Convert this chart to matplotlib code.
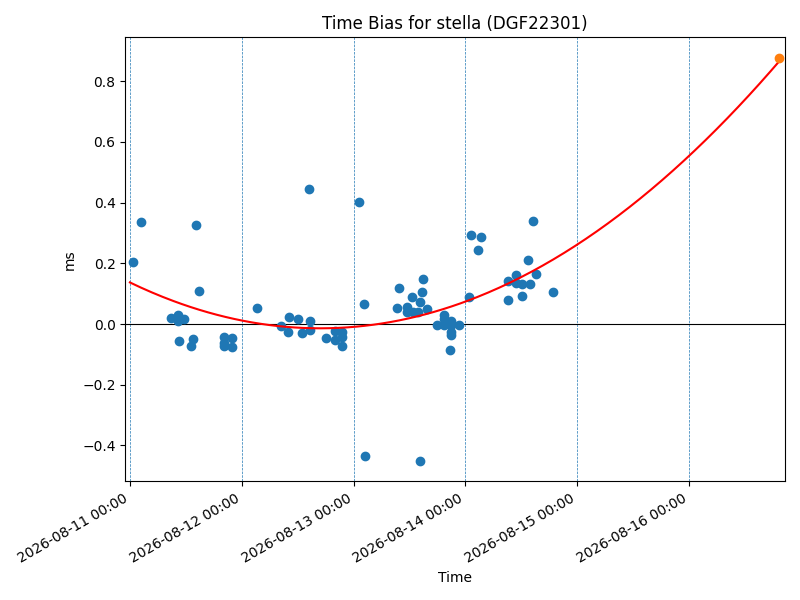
import numpy as np
import pandas as pd
import matplotlib
matplotlib.use("Agg")
import matplotlib.pyplot as plt
import matplotlib.dates as mdates

# measured time bias samples (ms)
times = [
    "2026-08-11 00:39", "2026-08-11 02:21", "2026-08-11 08:44", "2026-08-11 10:26",
    "2026-08-11 10:26", "2026-08-11 11:31", "2026-08-11 10:32", "2026-08-11 14:07",
    "2026-08-11 14:50", "2026-08-11 13:32", "2026-08-11 13:06", "2026-08-11 20:08",
    "2026-08-11 20:08", "2026-08-11 20:17", "2026-08-11 21:55", "2026-08-11 21:55",
    "2026-08-12 03:17", "2026-08-12 08:31", "2026-08-12 10:11", "2026-08-12 09:58",
    "2026-08-12 11:59", "2026-08-12 12:58", "2026-08-12 14:24", "2026-08-12 14:41",
    "2026-08-12 14:41", "2026-08-12 18:07", "2026-08-12 19:55", "2026-08-12 19:55",
    "2026-08-12 21:33", "2026-08-12 21:33", "2026-08-12 21:33",
    "2026-08-13 01:08", "2026-08-13 02:17", "2026-08-13 02:30", "2026-08-13 09:48",
    "2026-08-13 09:26", "2026-08-13 11:31", "2026-08-13 11:31", "2026-08-13 12:46",
    "2026-08-13 12:36", "2026-08-13 13:52", "2026-08-13 14:18", "2026-08-13 14:44",
    "2026-08-13 14:57", "2026-08-13 14:18", "2026-08-13 15:49", "2026-08-13 17:50",
    "2026-08-13 19:24", "2026-08-13 19:24", "2026-08-13 19:24", "2026-08-13 20:50",
    "2026-08-13 20:50", "2026-08-13 20:50", "2026-08-13 20:56", "2026-08-13 20:45",
    "2026-08-13 22:34",
    "2026-08-14 00:50", "2026-08-14 01:16", "2026-08-14 03:24", "2026-08-14 02:47",
    "2026-08-14 09:09", "2026-08-14 09:13", "2026-08-14 10:57", "2026-08-14 10:57",
    "2026-08-14 12:13", "2026-08-14 12:13", "2026-08-14 13:49", "2026-08-14 13:31",
    "2026-08-14 14:36", "2026-08-14 15:14", "2026-08-14 18:53",
]
bias_ms = [
    0.206, 0.337, 0.021, 0.030,
    0.010, 0.016, -0.056, 0.325,
    0.109, -0.050, -0.073, -0.044,
    -0.063, -0.071, -0.047, -0.077,
    0.053, -0.006, 0.024, -0.025,
    0.017, -0.030, 0.446, 0.011,
    -0.021, -0.045, -0.023, -0.052,
    -0.025, -0.044, -0.072,
    0.403, 0.066, -0.434, 0.119,
    0.053, 0.057, 0.039, 0.040,
    0.089, 0.040, 0.073, 0.106,
    0.147, -0.452, 0.049, -0.002,
    0.030, 0.016, -0.002, -0.002,
    0.009, -0.027, -0.036, -0.085,
    -0.002,
    0.088, 0.292, 0.288, 0.245,
    0.141, 0.080, 0.161, 0.135,
    0.132, 0.094, 0.132, 0.211,
    0.340, 0.165, 0.106,
]

# predicted bias at "now"
now_time = "2026-08-16 19:22"
now_bias = 0.878

fit_start = "2026-08-11 00:00"
x_range = ("2026-08-10 23:01", "2026-08-16 20:36")

t = mdates.date2num(pd.to_datetime(times))
t0 = mdates.date2num(pd.Timestamp(fit_start))
t_now = mdates.date2num(pd.Timestamp(now_time))

# quadratic trend through the samples
coef = np.polyfit(t - t0, bias_ms, 2)
tt = np.linspace(t0, t_now, 300)
fit = np.polyval(coef, tt - t0)

fig, ax = plt.subplots(figsize=(8, 6), dpi=100)

for d in pd.date_range("2026-08-11", "2026-08-16", freq="D"):
    ax.axvline(mdates.date2num(d), color="C0", linestyle="--", linewidth=0.5)
ax.axhline(0, color="k", linewidth=0.8)

ax.plot(t, bias_ms, "o", color="C0")
ax.plot(tt, fit, color="red")
ax.plot([t_now], [now_bias], "o", color="C1")

ax.set_xlim(mdates.date2num(pd.Timestamp(x_range[0])),
            mdates.date2num(pd.Timestamp(x_range[1])))
ax.xaxis.set_major_locator(mdates.DayLocator())
ax.xaxis.set_major_formatter(mdates.DateFormatter("%Y-%m-%d %H:%M"))
fig.autofmt_xdate()

ax.set_title("Time Bias for stella (DGF22301)")
ax.set_xlabel("Time")
ax.set_ylabel("ms")

fig.tight_layout()
fig.savefig("out.png")
